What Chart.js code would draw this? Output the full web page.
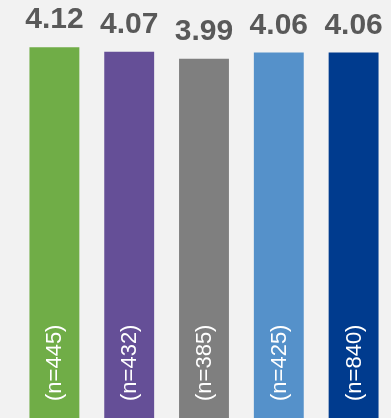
<!DOCTYPE html>
<html>
<head>
<meta charset="utf-8">
<script src="https://cdn.jsdelivr.net/npm/chart.js@4"></script>
<style>
  html, body { margin: 0; padding: 0; background: #f2f2f2; }
  #wrap { width: 391px; height: 418px; }
</style>
</head>
<body>
<div id="wrap"><canvas id="myChart" width="391" height="418"></canvas></div>
<script>
const categories = ['A', 'B', 'C', 'D', 'E'];
const scores = [4.12, 4.07, 3.99, 4.06, 4.06];
const counts = ['(n=445)', '(n=432)', '(n=385)', '(n=425)', '(n=840)'];
const colors = ['#70ad47', '#654f97', '#7f7f7f', '#5591ca', '#003b8e'];

// draws value labels over the bars and the n counts inside them
const labelsPlugin = {
  id: 'labels',
  afterDatasetsDraw(chart) {
    const c = chart.ctx;
    const meta = chart.getDatasetMeta(0);
    meta.data.forEach((bar, i) => {
      c.save();
      c.fillStyle = '#595959';
      c.font = 'bold 30px "Liberation Sans", Arial, sans-serif';
      c.textAlign = 'center';
      c.textBaseline = 'alphabetic';
      c.fillText(scores[i].toFixed(2), bar.x, bar.y - 19);

      c.translate(bar.x + 1, chart.chartArea.bottom - 17);
      c.rotate(-Math.PI / 2);
      c.fillStyle = '#ffffff';
      c.font = '22px "Liberation Sans", Arial, sans-serif';
      c.textAlign = 'left';
      c.textBaseline = 'middle';
      c.fillText(counts[i], 0, 0);
      c.restore();
    });
  }
};

const ctx = document.getElementById('myChart');

const grafica = new Chart(ctx, {
  type: 'bar',
  data: {
    labels: categories,
    datasets: [{
      data: scores,
      backgroundColor: colors,
      borderWidth: 0,
      barPercentage: 0.667,
      categoryPercentage: 1
    }]
  },
  options: {
    responsive: false,
    animation: false,
    layout: { padding: { left: 17, right: 0, top: 0, bottom: 0 } },
    plugins: { legend: { display: false }, tooltip: { enabled: false } },
    scales: {
      x: { display: false },
      y: { display: false, min: 0, max: 4.644 }
    }
  },
  plugins: [labelsPlugin]
});
</script>
</body>
</html>
